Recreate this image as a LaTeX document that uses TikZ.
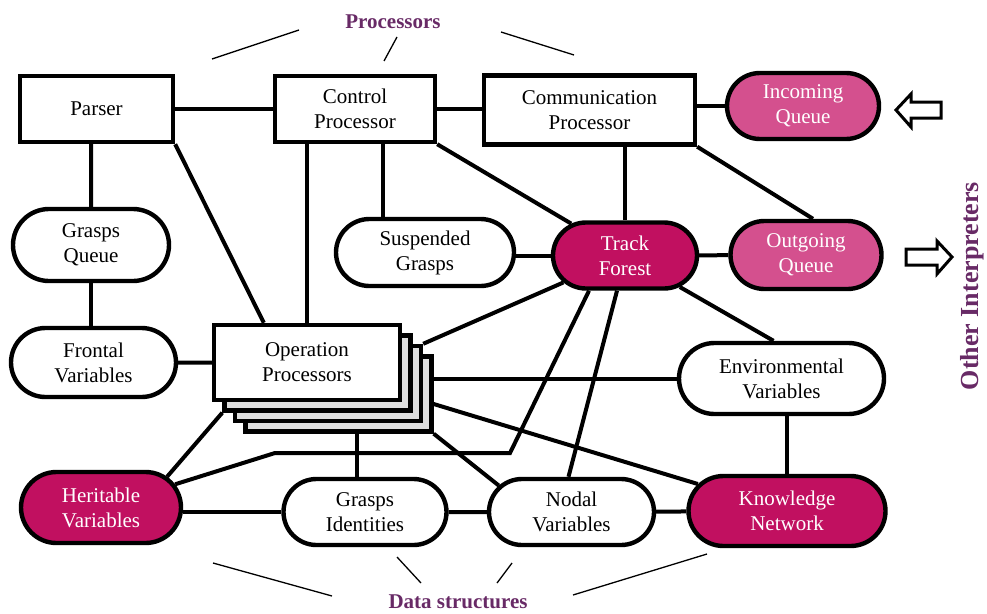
\documentclass[tikz,border=0pt]{standalone}
\usepackage{fontspec}
\setmainfont{Liberation Serif}
\usetikzlibrary{shapes.misc}
\definecolor{deeprose}{RGB}{193,16,96}
\definecolor{softrose}{RGB}{212,80,142}
\definecolor{plum}{RGB}{104,42,102}
\begin{document}
\begin{tikzpicture}[x=1pt,y=-1pt,
  every node/.style={font=\fontsize{21}{25}\selectfont},
  procbox/.style={draw,line width=4.4pt,fill=white,align=center,inner sep=0pt},
  stackbox/.style={procbox,fill=black!13,minimum width=186pt,minimum height=75pt},
  pill/.style={draw,line width=4.4pt,rounded rectangle,fill=white,align=center,inner sep=0pt},
  hotpill/.style={pill,fill=deeprose,text=white},
  softpill/.style={pill,fill=softrose,text=white},
  link/.style={line width=4pt},
  pointer/.style={line width=1.3pt},
  caption/.style={text=plum,font=\fontsize{21}{25}\selectfont\bfseries},
  blockarrow/.style={line width=3pt,fill=white,line join=miter}]
\useasboundingbox(0,0)rectangle(987,613);
% processors
\node[procbox,minimum width=153pt,minimum height=66pt](parser)at(96.5,109){Parser};
\node[procbox,minimum width=160pt,minimum height=66pt](ctrl)at(355,109){Control\\Processor};
\node[procbox,minimum width=211pt,minimum height=69pt](comm)at(589.5,110){Communication\\Processor};
\node[stackbox](op3)at(338.5,394){};
\node[stackbox](op2)at(328,383.5){};
\node[stackbox](op1)at(317.5,373){};
\node[procbox,minimum width=186pt,minimum height=75pt](op)at(307,362.5){Operation\\Processors};
% data structures
\node[softpill,minimum width=152pt,minimum height=66pt](inq)at(803,106){Incoming\\Queue};
\node[pill,minimum width=156pt,minimum height=72pt](gq)at(91,245){Grasps\\Queue};
\node[pill,minimum width=178pt,minimum height=67pt](susp)at(425,252.5){Suspended\\Grasps};
\node[hotpill,minimum width=144pt,minimum height=66pt](track)at(625,255.5){Track\\Forest};
\node[softpill,minimum width=151pt,minimum height=68pt](outq)at(806,255){Outgoing\\Queue};
\node[pill,minimum width=165pt,minimum height=69pt](frontal)at(93.5,362.5){Frontal\\Variables};
\node[pill,minimum width=205pt,minimum height=71pt](env)at(781.5,378.5){Environmental\\Variables};
\node[hotpill,minimum width=160pt,minimum height=71pt](her)at(101,507.5){Heritable\\Variables};
\node[pill,minimum width=163pt,minimum height=66pt](gid)at(365,512){Grasps\\Identities};
\node[pill,minimum width=165pt,minimum height=66pt](nodal)at(571.5,512){Nodal\\Variables};
\node[hotpill,minimum width=197pt,minimum height=70pt](know)at(787,511){Knowledge\\Network};
\coordinate(bendA)at(510,453);
\coordinate(bendB)at(275,453);
% links
\draw[link](parser)--(ctrl);
\draw[link](ctrl.east)--(ctrl.east-|comm.west);
\draw[link](inq.west-|comm.east)--(inq);
\draw[link](parser.south-|gq)--(gq);
\draw[link](gq.south)--(gq.south|-frontal.north);
\draw[link](parser.south east)--([xshift=52pt]op.north west);
\draw[link](op.north)--(op.north|-ctrl.south);
\draw[link]([xshift=-42pt]susp.north)--([xshift=-42pt]susp.north|-ctrl.south);
\draw[link](ctrl.south east)--(track);
\draw[link](track.north)--(track.north|-comm.south);
\draw[link](comm.south east)--([xshift=7pt]outq.north);
\draw[link](susp.east|-track)--(track);
\draw[link](track)--(outq);
\draw[link](frontal)--(op);
\draw[link](op2.north east)--(track);
\draw[link]([xshift=-36pt]track.south)--(bendA)--(bendB)--(her);
\draw[link]([xshift=-8pt]track.south)--([xshift=-3pt]nodal.north);
\draw[link]([xshift=-8pt]env.north)--(track);
\draw[link](env.west)--(env.west-|op3.east);
\draw[link](op3.-6)--(know);
\draw[link](op3.south east)--(nodal.160);
\draw[link]([xshift=-8pt]gid.north)--([xshift=-8pt]gid.north|-op3.south);
\draw[link](op1.south west)--(her.25);
\draw[link](gid.west-|her.east)--(gid);
\draw[link](gid)--(nodal);
\draw[link](nodal)--(know);
\draw[link](know.north)--(know.north|-env.south);
% captions
\node[caption](proclabel)at(393,22){Processors};
\node[caption](datalabel)at(458,602){Data structures};
\node[caption,font=\fontsize{26}{30}\selectfont\bfseries,rotate=90](otherlabel)at(972,286){Other Interpreters};
\draw[pointer](212,59)--(299,30);
\draw[pointer](384,61)--(397,37);
\draw[pointer](501,32)--(574,55);
\draw[pointer](213,563)--(332,596);
\draw[pointer](397,557)--(421,583);
\draw[pointer](512,563)--(497,583);
\draw[pointer](573,595)--(707,554);
% arrows to other interpreters
\draw[blockarrow](896,110)--(911,94)--(911,102)--(941,102)--(941,118)--(911,118)--(911,127)--cycle;
\draw[blockarrow](906,249)--(937,249)--(937,241)--(952,257)--(937,274)--(937,265)--(906,265)--cycle;
\end{tikzpicture}
\end{document}
